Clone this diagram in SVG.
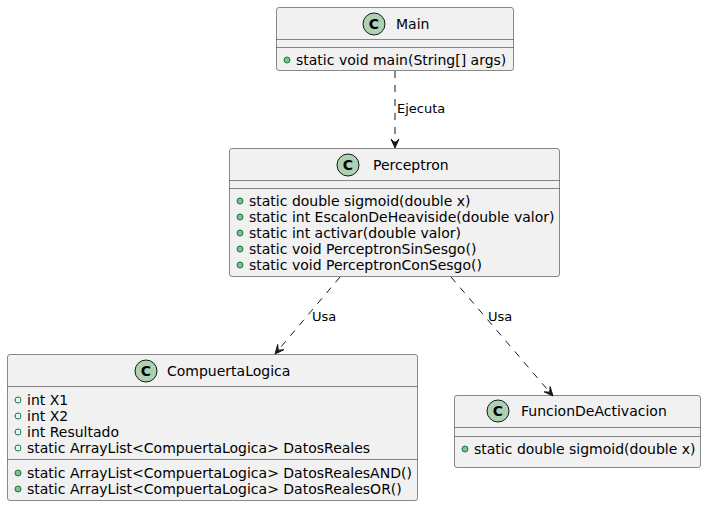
<svg xmlns="http://www.w3.org/2000/svg" width="707" height="506" viewBox="0 0 707 506">
<style>
.box{fill:#F1F1F1;stroke:#181818;stroke-width:0.5}
.sep{stroke:#181818;stroke-width:0.5}
.ci{fill:#ADD1B2;stroke:#181818;stroke-width:1}
.cl{font-family:"DejaVu Sans",sans-serif;font-size:14px;font-weight:bold;fill:#000}
.nm{font-family:"DejaVu Sans",sans-serif;font-size:14px;fill:#000}
.mb{font-family:"DejaVu Sans",sans-serif;font-size:14px;fill:#000}
.lb{font-family:"DejaVu Sans",sans-serif;font-size:13px;fill:#000}
.mf{fill:#84BE84;stroke:#038048;stroke-width:1}
.fa{fill:none;stroke:#038048;stroke-width:1}
.ed{fill:none;stroke:#181818;stroke-width:1;stroke-dasharray:7,7}
.ah{fill:#181818;stroke:#181818;stroke-width:1}
</style>
<g id="Main">
<rect class="box" x="276.5" y="7.5" width="237" height="63" rx="2.5"/>
<circle class="ci" cx="374" cy="24" r="11"/>
<text class="cl" x="374" y="29" text-anchor="middle">C</text>
<text class="nm" x="396" y="29">Main</text>
<line class="sep" x1="276.5" y1="39.5" x2="513.5" y2="39.5"/>
<line class="sep" x1="276.5" y1="47.5" x2="513.5" y2="47.5"/>
<circle class="mf" cx="287" cy="60" r="3"/>
<text class="mb" x="296" y="65">static void main(String[] args)</text>
</g>
<g id="Perceptron">
<rect class="box" x="229.5" y="148.5" width="330" height="128" rx="2.5"/>
<circle class="ci" cx="348" cy="165" r="11"/>
<text class="cl" x="348" y="170" text-anchor="middle">C</text>
<text class="nm" x="373" y="170">Perceptron</text>
<line class="sep" x1="229.5" y1="180.5" x2="559.5" y2="180.5"/>
<line class="sep" x1="229.5" y1="188.5" x2="559.5" y2="188.5"/>
<circle class="mf" cx="240" cy="201" r="3"/>
<text class="mb" x="249" y="206">static double sigmoid(double x)</text>
<circle class="mf" cx="240" cy="217" r="3"/>
<text class="mb" x="249" y="222">static int EscalonDeHeaviside(double valor)</text>
<circle class="mf" cx="240" cy="233" r="3"/>
<text class="mb" x="249" y="238">static int activar(double valor)</text>
<circle class="mf" cx="240" cy="249" r="3"/>
<text class="mb" x="249" y="254">static void PerceptronSinSesgo()</text>
<circle class="mf" cx="240" cy="265" r="3"/>
<text class="mb" x="249" y="270">static void PerceptronConSesgo()</text>
</g>
<g id="CompuertaLogica">
<rect class="box" x="7.5" y="354.5" width="410" height="146" rx="2.5"/>
<circle class="ci" cx="146" cy="371" r="11"/>
<text class="cl" x="146" y="376" text-anchor="middle">C</text>
<text class="nm" x="167" y="376">CompuertaLogica</text>
<line class="sep" x1="7.5" y1="386.5" x2="417.5" y2="386.5"/>
<circle class="fa" cx="18" cy="400" r="3"/>
<text class="mb" x="27" y="405">int X1</text>
<circle class="fa" cx="18" cy="416" r="3"/>
<text class="mb" x="27" y="421">int X2</text>
<circle class="fa" cx="18" cy="432" r="3"/>
<text class="mb" x="27" y="437">int Resultado</text>
<circle class="fa" cx="18" cy="448" r="3"/>
<text class="mb" x="27" y="453">static ArrayList&lt;CompuertaLogica&gt; DatosReales</text>
<line class="sep" x1="7.5" y1="459.5" x2="417.5" y2="459.5"/>
<circle class="mf" cx="18" cy="473" r="3"/>
<text class="mb" x="27" y="478">static ArrayList&lt;CompuertaLogica&gt; DatosRealesAND()</text>
<circle class="mf" cx="18" cy="489" r="3"/>
<text class="mb" x="27" y="494">static ArrayList&lt;CompuertaLogica&gt; DatosRealesOR()</text>
</g>
<g id="FuncionDeActivacion">
<rect class="box" x="454.5" y="395.5" width="246" height="72" rx="2.5"/>
<circle class="ci" cx="498" cy="411" r="11"/>
<text class="cl" x="498" y="416" text-anchor="middle">C</text>
<text class="nm" x="521" y="416">FuncionDeActivacion</text>
<line class="sep" x1="454.5" y1="427.5" x2="700.5" y2="427.5"/>
<line class="sep" x1="454.5" y1="436.5" x2="700.5" y2="436.5"/>
<circle class="mf" cx="465" cy="449" r="3"/>
<text class="mb" x="474" y="454">static double sigmoid(double x)</text>
</g>
<g id="connectors">
<path class="ed" d="M395,71 L395,143"/>
<polygon class="ah" points="395,148 391,139 395,143 399,139"/>
<text class="lb" x="397" y="113">Ejecuta</text>
<path class="ed" d="M340,277 L278.2,350.2"/>
<polygon class="ah" points="275,354 277.7,344.5 278.2,350.2 283.9,349.7"/>
<text class="lb" x="312" y="321">Usa</text>
<path class="ed" d="M451,277 L549.7,392.2"/>
<polygon class="ah" points="553,396 544.1,391.8 549.7,392.2 550.1,386.6"/>
<text class="lb" x="488" y="321">Usa</text>
</g>
</svg>
